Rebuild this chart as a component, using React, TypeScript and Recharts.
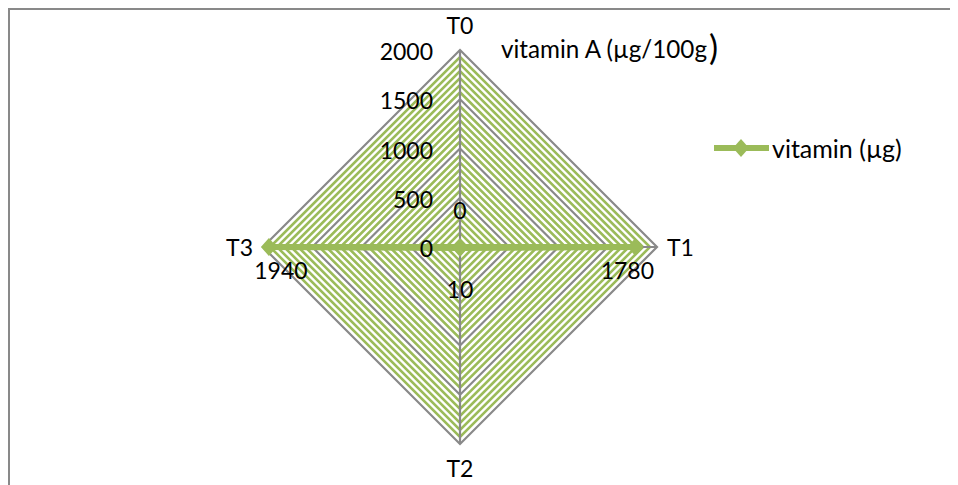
import React from 'react'
import {
  RadarChart,
  Radar,
  PolarGrid,
  PolarAngleAxis,
  PolarRadiusAxis,
  Legend,
  LabelList,
} from 'recharts'

// categories around the radar and the single series
const categories = ['T0', 'T1', 'T2', 'T3']
const vitaminValues = [0, 1780, 10, 1940]
const seriesName = 'vitamin (µg)'
const radiusDomain = [0, 2000]
const radiusTickCount = 5

const GREEN = '#9BBB59'
const GRAY = '#898989'
const FONT = 'Lato, "Open Sans", sans-serif'

const W = 948
const H = 475
const CX = 450
const CY = 237
const R = 197

// green minor rings: 7 steps per 500 band, gray rings drawn on top
const minorRadii: number[] = []
for (let k = 1; k < 28; k++) {
  if (k % 7 !== 0) minorRadii.push((k / 28) * R)
}

// where each value label sits relative to its point
const LABEL_OFFSETS = [
  { dx: 0, dy: -37 },
  { dx: -8, dy: 23 },
  { dx: 0, dy: 41 },
  { dx: 12, dy: 23 },
]

const data = categories.map((c, i) => ({ axis: c, value: vitaminValues[i] }))

function AngleTick(props: any) {
  const { x, y, payload } = props
  const dx = x - CX
  const dy = y - CY
  const d = Math.hypot(dx, dy) || 1
  const horizontal = Math.abs(dx) > Math.abs(dy)
  const gap = horizontal ? 10 : dy < 0 ? 25 : 24
  const px = CX + (dx / d) * (R + gap)
  const py = CY + (dy / d) * (R + gap)
  const anchor = horizontal ? (dx > 0 ? 'start' : 'end') : 'middle'
  return (
    <text x={px} y={py} textAnchor={anchor} dominantBaseline="central" fill="#000" fontSize={23} fontFamily={FONT}>
      {payload.value}
    </text>
  )
}

function RadiusTick(props: any) {
  const { x, y, payload } = props
  return (
    <text x={x - 27} y={y + 1} textAnchor="end" dominantBaseline="central" fill="#000" fontSize={23} fontFamily={FONT}>
      {payload.value}
    </text>
  )
}

function Diamond(props: any) {
  const { cx, cy } = props
  if (cx == null || cy == null) return null
  return <path d={`M${cx},${cy - 9}L${cx + 8},${cy}L${cx},${cy + 9}L${cx - 8},${cy}Z`} fill={GREEN} />
}

function ValueLabel(props: any) {
  const x = props.x ?? props.viewBox?.x
  const y = props.y ?? props.viewBox?.y
  const off = LABEL_OFFSETS[props.index] ?? { dx: 0, dy: 0 }
  return (
    <text x={x + off.dx} y={y + off.dy} textAnchor="middle" dominantBaseline="central" fill="#000" fontSize={23} fontFamily={FONT}>
      {props.value}
    </text>
  )
}

function LegendContent(props: any) {
  const items = props.payload ?? []
  return (
    <div>
      {items.map((entry: any) => (
        <div key={entry.value} style={{ display: 'flex', alignItems: 'center', fontFamily: FONT, fontSize: 25, color: '#000' }}>
          <svg width={58} height={20}>
            <line x1={1} y1={10} x2={56} y2={10} stroke={GREEN} strokeWidth={6} />
            <path d="M28,1L36,10L28,19L20,10Z" fill={GREEN} />
          </svg>
          <span style={{ marginLeft: 1, lineHeight: '20px' }}>{entry.value}</span>
        </div>
      ))}
    </div>
  )
}

export default function App() {
  return (
    <div
      style={{
        position: 'relative',
        width: W,
        height: H,
        borderTop: `2px solid ${GRAY}`,
        borderLeft: `2px solid ${GRAY}`,
        background: '#fff',
      }}
    >
      <style>{`body{overflow:hidden}`}</style>
      <RadarChart width={W} height={H} data={data} cx={CX} cy={CY} outerRadius={R} margin={{ top: 0, right: 0, bottom: 0, left: 0 }}>
        <PolarGrid gridType="polygon" radialLines={false} polarRadius={minorRadii} stroke={GREEN} strokeWidth={2.6} />
        <PolarGrid gridType="polygon" stroke={GRAY} strokeWidth={2.2} />
        <PolarAngleAxis dataKey="axis" tick={AngleTick} tickLine={false} axisLine={false} />
        <PolarRadiusAxis
          angle={90}
          domain={radiusDomain}
          tickCount={radiusTickCount}
          tick={RadiusTick}
          axisLine={false}
          tickLine={false}
        />
        <Radar
          name={seriesName}
          dataKey="value"
          stroke={GREEN}
          strokeWidth={6}
          fill="none"
          fillOpacity={0}
          dot={Diamond}
          isAnimationActive={false}
        >
          <LabelList dataKey="value" content={ValueLabel} />
        </Radar>
        <Legend
          layout="vertical"
          align="right"
          verticalAlign="top"
          content={LegendContent}
          wrapperStyle={{ position: 'absolute', top: 128, left: 703, width: 240 }}
        />
      </RadarChart>
      <svg width={W} height={H} style={{ position: 'absolute', left: 0, top: 0, pointerEvents: 'none' }}>
        <text x={491} y={48} fill="#000" fontFamily={FONT} fontSize={24.5} textLength={206} lengthAdjust="spacingAndGlyphs">
          vitamin A (µg/100g
        </text>
        <text x={699} y={50} fill="#000" fontFamily={FONT} fontSize={34}>)</text>
      </svg>
    </div>
  )
}
